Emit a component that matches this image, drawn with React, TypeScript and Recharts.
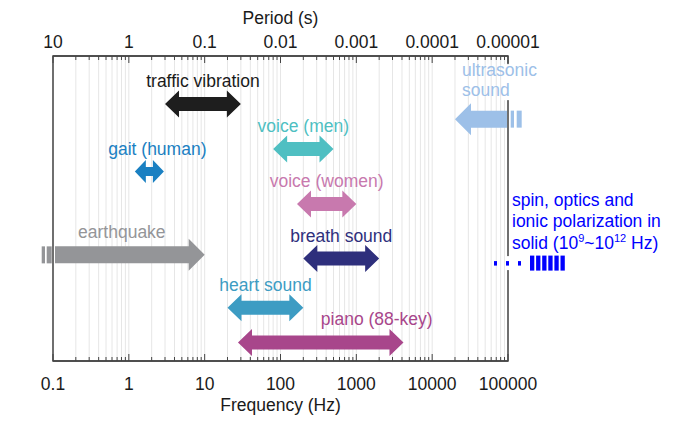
import React from 'react';
import { ComposedChart, XAxis, YAxis, CartesianGrid, ReferenceArea, ReferenceDot, Scatter } from 'recharts';

// frequency ranges of the vibration / sound sources (Hz)
const sources = ['traffic vibration', 'ultrasonic sound', 'voice (men)', 'gait (human)', 'voice (women)', 'earthquake', 'breath sound', 'heart sound', 'piano (88-key)'];
const lowHz = [3, 20000, 80, 1.2, 165, 0.1, 200, 20, 27.5];
const highHz = [30, 100000, 500, 2.9, 1000, 10, 2000, 200, 4186];
// row of each arrow, 0 = top of plot, 100 = bottom
const rows = [15.7, 20.7, 30.5, 37.9, 48.5, 65.2, 66.4, 82.5, 93.9];
// range continues beyond the axis
const openBelow = [false, false, false, false, false, true, false, false, false];
const openAbove = [false, true, false, false, false, false, false, false, false];

const solidLines = ['spin, optics and', 'ionic polarization in'];
const solidFreq = 100000;
const solidRow = 67.9;

const freqTicks = [0.1, 1, 10, 100, 1000, 10000, 100000];
const freqTickLabels = ['0.1', '1', '10', '100', '1000', '10000', '100000'];
const periodTickLabels = ['10', '1', '0.1', '0.01', '0.001', '0.0001', '0.00001'];

const COLORS = ['#1e1e1e', '#9dc0e8', '#4fbfc2', '#1a80c2', '#c879ae', '#949598', '#2e2f7c', '#3d9cc3', '#a8468b'];
const LABEL_COLORS = ['#1a1a1a', '#9dc0e8', '#4fbfc2', '#1a80c2', '#c879ae', '#949598', '#2e2f7c', '#3d9cc3', '#a8468b'];
const LABEL_DX = [0, 0, 0, 8, 0, -7, 0, 0, 56];
const AXIS = '#444';
const TEXT = '#1a1a1a';
const FS = 17.5;

const allTicks: number[] = freqTicks.flatMap((d, i) =>
  i < freqTicks.length - 1 ? [1, 2, 3, 4, 5, 6, 7, 8, 9].map(m => d * m) : [d]
);
const decadeIndex = (v: number) => freqTicks.findIndex(t => Math.abs(t - v) / t < 1e-6);

const endpoints = sources.flatMap((s, i) => [
  { f: lowHz[i], row: rows[i] },
  { f: highHz[i], row: rows[i] },
]);

const BottomTick = (p: any) => {
  const { x, y, payload } = p;
  const k = decadeIndex(payload.value);
  return (
    <g>
      <line x1={x} x2={x} y1={y} y2={y - (k >= 0 ? 7 : 4)} stroke={AXIS} />
      {k >= 0 && (
        <text x={x} y={y + 29} textAnchor="middle" fontSize={FS} fill={TEXT}>{freqTickLabels[k]}</text>
      )}
    </g>
  );
};

const TopTick = (p: any) => {
  const { x, y, payload } = p;
  const k = decadeIndex(payload.value);
  return (
    <g>
      <line x1={x} x2={x} y1={y} y2={y + (k >= 0 ? 7 : 4)} stroke={AXIS} />
      {k >= 0 && (
        <text x={x} y={y - 8} textAnchor="middle" fontSize={FS} fill={TEXT}>{periodTickLabels[k]}</text>
      )}
    </g>
  );
};

const arrowShape = (i: number) => (p: any) => {
  const { x, y, width, height } = p;
  const cy = y + height / 2;
  const x0 = x;
  const x1 = x + width;
  const big = i === 1 || i === 5;
  const small = i === 3;
  const S = big ? 17 : small ? 9 : 14; // shaft
  const H = big ? 32 : small ? 23 : 27; // head height
  const L = big ? 16 : small ? 11 : 14; // head length
  const c = COLORS[i];
  const pts: number[][] = [];
  if (openBelow[i]) {
    pts.push([x0 + 2, cy - S / 2]);
  } else {
    pts.push([x0, cy], [x0 + L, cy - H / 2], [x0 + L, cy - S / 2]);
  }
  if (openAbove[i]) {
    pts.push([x1 - 1, cy - S / 2], [x1 - 1, cy + S / 2]);
  } else {
    pts.push([x1 - L, cy - S / 2], [x1 - L, cy - H / 2], [x1, cy], [x1 - L, cy + H / 2], [x1 - L, cy + S / 2]);
  }
  if (openBelow[i]) {
    pts.push([x0 + 2, cy + S / 2]);
  } else {
    pts.push([x0 + L, cy + S / 2], [x0 + L, cy + H / 2]);
  }
  const mid = (x0 + x1) / 2 + LABEL_DX[i];
  return (
    <g>
      <polygon points={pts.map(q => q.join(',')).join(' ')} fill={c} />
      {openBelow[i] && (
        <g>
          <rect x={x0 - 11.3} y={cy - S / 2} width={3.3} height={S} fill={c} />
          <rect x={x0 - 6.3} y={cy - S / 2} width={5} height={S} fill={c} />
        </g>
      )}
      {openAbove[i] && (
        <g>
          <rect x={x1 + 2.7} y={cy - S / 2} width={3.3} height={S} fill={c} />
          <rect x={x1 + 8.7} y={cy - S / 2} width={5} height={S} fill={c} />
        </g>
      )}
      {!openAbove[i] && (
        <text x={mid} y={cy - 17} textAnchor="middle" fontSize={FS} fill={LABEL_COLORS[i]}>{sources[i]}</text>
      )}
    </g>
  );
};

// label of the open-ended (ultrasonic) range, with a white backing that hides the frame behind it
const openLabelShape = (i: number) => (p: any) => {
  const x0 = p.x;
  const x1 = p.x + p.width;
  const cy = p.y + p.height / 2;
  const words = sources[i].split(' ');
  return (
    <g>
      <rect x={x1 - 4} y={cy - 55} width={8} height={36} fill="#fff" />
      <text x={x0 + 7} y={cy - 43} fontSize={FS} fill={LABEL_COLORS[i]}>
        <tspan x={x0 + 7}>{words[0]}</tspan>
        <tspan x={x0 + 7} dy={20}>{words[1]}</tspan>
      </text>
    </g>
  );
};

const SolidMark = (p: any) => {
  const { cx, cy } = p;
  const blue = '#0000ff';
  const tx = cx + 4;
  return (
    <g>
      <rect x={cx - 3} y={cy - 7} width={6} height={14} fill="#fff" />
      {[-14, -2, 10].map(d => (
        <rect key={d} x={cx + d} y={cy - 2} width={3} height={4.5} fill={blue} />
      ))}
      {[0, 1, 2, 3, 4, 5].map(k => (
        <rect key={k} x={cx + 22 + k * 6.1} y={cy - 7.5} width={4.3} height={15} fill={blue} />
      ))}
      <text x={tx} y={cy - 57} fontSize={FS} fill={blue}>{solidLines[0]}</text>
      <text x={tx} y={cy - 36} fontSize={FS} fill={blue}>{solidLines[1]}</text>
      <text x={tx} y={cy - 14} fontSize={FS} fill={blue}>
        solid (10<tspan fontSize={11} dy={-7}>9</tspan>
        <tspan dy={7}>~10</tspan>
        <tspan fontSize={11} dy={-7}>12</tspan>
        <tspan dy={7}> Hz)</tspan>
      </text>
    </g>
  );
};

const App: React.FC = () => (
  <div style={{ position: 'absolute', left: 0, top: 0, fontFamily: '"Liberation Sans", Arial, sans-serif', background: '#fff' }}>
    <ComposedChart width={681} height={425} margin={{ top: 0, right: 173, bottom: 0, left: 53 }}>
      <CartesianGrid vertical horizontal={false} stroke="#e6e6e6" />
      <XAxis
        type="number"
        dataKey="f"
        scale="log"
        domain={[0.1, 100000]}
        allowDataOverflow
        ticks={allTicks}
        interval={0}
        tick={<BottomTick />}
        tickLine={false}
        tickSize={0}
        tickMargin={0}
        height={64}
        axisLine={{ stroke: AXIS, strokeWidth: 1.5 }}
        label={{ value: 'Frequency (Hz)', position: 'insideBottom', offset: 14, fill: TEXT, fontSize: FS }}
      />
      <XAxis
        xAxisId="top"
        orientation="top"
        type="number"
        dataKey="f"
        scale="log"
        domain={[0.1, 100000]}
        allowDataOverflow
        ticks={allTicks}
        interval={0}
        tick={<TopTick />}
        tickLine={false}
        tickSize={0}
        tickMargin={0}
        height={56}
        axisLine={{ stroke: AXIS, strokeWidth: 1.5 }}
        label={{ value: 'Period (s)', position: 'insideTop', offset: 12, fill: TEXT, fontSize: FS }}
      />
      <YAxis type="number" dataKey="row" domain={[0, 100]} reversed width={0} tick={false} tickLine={false} axisLine={{ stroke: AXIS, strokeWidth: 1.5 }} />
      <YAxis yAxisId="r" orientation="right" type="number" dataKey="row" domain={[0, 100]} reversed width={0} tick={false} tickLine={false} axisLine={{ stroke: AXIS, strokeWidth: 1.5 }} />
      <Scatter data={endpoints} dataKey="row" fill="none" shape={() => <g />} isAnimationActive={false} />
      <Scatter xAxisId="top" yAxisId="r" data={endpoints} dataKey="row" fill="none" shape={() => <g />} isAnimationActive={false} />
      {sources.map((s, i) => (
        <ReferenceArea
          key={s}
          x1={lowHz[i]}
          x2={highHz[i]}
          y1={rows[i] - 1}
          y2={rows[i] + 1}
          ifOverflow="visible"
          shape={arrowShape(i)}
        />
      ))}
      {/* plot frame, drawn over the arrows like the axes in the original */}
      <ReferenceArea x1={0.1} x2={100000} y1={0} y2={100} ifOverflow="visible" fill="none" fillOpacity={0} stroke={AXIS} strokeWidth={1.5} />
      <ReferenceDot x={solidFreq} y={solidRow} ifOverflow="visible" shape={(p: any) => <SolidMark {...p} />} />
      {sources.map((s, i) =>
        openAbove[i] ? (
          <ReferenceArea
            key={`lbl-${s}`}
            x1={lowHz[i]}
            x2={highHz[i]}
            y1={rows[i] - 1}
            y2={rows[i] + 1}
            ifOverflow="visible"
            fillOpacity={0}
            shape={openLabelShape(i)}
          />
        ) : null
      )}
    </ComposedChart>
  </div>
);

export default App;
